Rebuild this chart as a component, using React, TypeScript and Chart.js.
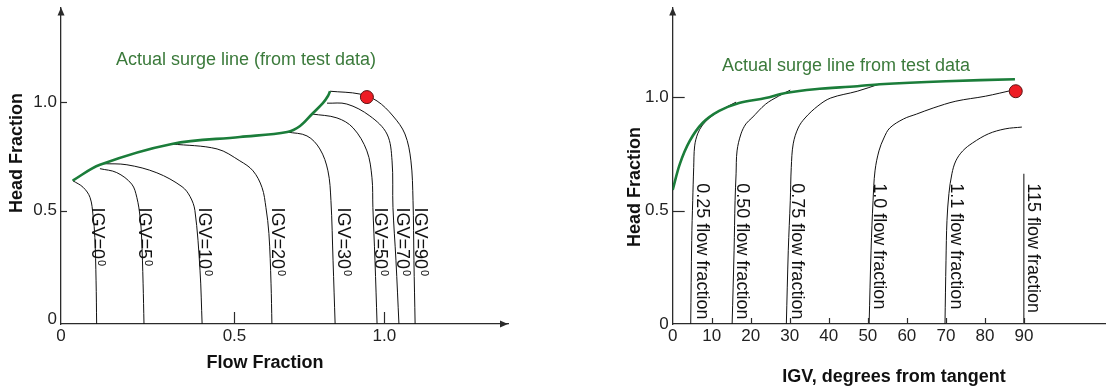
import React, { useEffect, useRef } from "react";
import { Chart, registerables } from "chart.js";
Chart.register(...registerables);

const FONT = "'Liberation Sans', Arial, Helvetica, sans-serif";
const GREEN_LINE = "#1b7d3a";
const GREEN_TEXT = "#3b7a3b";
const AXIS = "#2b2b2b";

// ---------------- Left chart: Head Fraction vs Flow Fraction ----------------
const leftXMin = -0.079;
const leftXMax = 1.413;
const leftYMin = -0.023;
const leftYMax = 1.436;
const leftXTickValues = [leftXMin, 0.5, 1.0];
const leftXTickLabels = ["0", "0.5", "1.0"];
const leftYTickValues = [0, 0.5, 1.0];
const leftYTickLabels = ["0", "0.5", "1.0"];

const igv0 = [[-0.040, 0.638], [-0.005, 0.607], [0.018, 0.560], [0.028, 0.477], [0.034, 0.376], [0.038, 0.179], [0.040, -0.023]];
const igv5 = [[0.051, 0.693], [0.107, 0.675], [0.157, 0.622], [0.174, 0.561], [0.185, 0.470], [0.190, 0.378], [0.195, 0.165], [0.198, -0.023]];
const igv10 = [[0.061, 0.716], [0.141, 0.711], [0.241, 0.674], [0.325, 0.610], [0.352, 0.564], [0.368, 0.500], [0.385, 0.225], [0.392, -0.023]];
const igv20 = [[0.291, 0.807], [0.442, 0.784], [0.518, 0.729], [0.562, 0.683], [0.592, 0.606], [0.605, 0.514], [0.615, 0.394], [0.622, 0.165], [0.625, -0.023]];
const igv30 = [[0.676, 0.862], [0.742, 0.844], [0.785, 0.784], [0.812, 0.683], [0.822, 0.546], [0.829, 0.271], [0.836, -0.023]];
const igv50 = [[0.759, 0.945], [0.842, 0.927], [0.896, 0.881], [0.942, 0.775], [0.959, 0.651], [0.962, 0.514], [0.969, 0.271], [0.976, -0.023]];
const igv70 = [[0.809, 0.995], [0.875, 0.991], [0.952, 0.936], [1.009, 0.853], [1.026, 0.729], [1.029, 0.514], [1.039, 0.271], [1.049, -0.023]];
const igv90 = [[0.819, 1.050], [0.919, 1.037], [0.976, 1.005], [1.029, 0.936], [1.069, 0.853], [1.089, 0.729], [1.096, 0.546], [1.099, 0.271], [1.103, -0.023]];
const leftSurge = [[-0.040, 0.638], [0.051, 0.711], [0.291, 0.807], [0.518, 0.839], [0.676, 0.862], [0.719, 0.890], [0.759, 0.945], [0.795, 0.995], [0.812, 1.028], [0.819, 1.050]];
const leftRedPoint = [0.942, 1.023];

const igvLabelTexts = ["IGV=0", "IGV=5", "IGV=10", "IGV=20", "IGV=30", "IGV=50", "IGV=70", "IGV=90"];
const igvLabelX = [0.024, 0.181, 0.383, 0.624, 0.846, 0.969, 1.043, 1.102];
const igvLabelTop = 0.514;
const leftNote = "Actual surge line (from test data)";
const leftNotePos = [0.1045, 1.173];

// ---------------- Right chart: Head Fraction vs IGV ----------------
const rightXMin = 0;
const rightXMax = 110.9;
const rightYMin = 0;
const rightYMax = 1.395;
const rightXTickValues = [0, 10, 20, 30, 40, 50, 60, 70, 80, 90];
const rightXTickLabels = ["0", "10", "20", "30", "40", "50", "60", "70", "80", "90"];
const rightYTickValues = [0, 0.5, 1.0];
const rightYTickLabels = ["0", "0.5", "1.0"];

const flow025 = [[16.24, 0.978], [11.94, 0.939], [9.42, 0.908], [7.65, 0.877], [6.39, 0.838], [5.63, 0.785], [5.38, 0.689], [5.13, 0.544], [4.87, 0.368], [4.62, 0]];
const flow050 = [[30.13, 1.031], [27.10, 1.004], [23.81, 0.969], [20.28, 0.908], [18.76, 0.882], [17.50, 0.838], [16.49, 0.763], [16.24, 0.662], [15.98, 0.544], [15.73, 0.325], [15.23, 0]];
const flow075 = [[52.85, 1.057], [47.30, 1.026], [40.48, 0.996], [37.20, 0.961], [33.91, 0.908], [32.15, 0.864], [30.88, 0.794], [30.38, 0.689], [30.13, 0.544], [29.62, 0.325], [29.12, 0]];
const flow100 = [[87.2, 1.031], [80.13, 1.004], [72.55, 0.982], [66.74, 0.952], [62.45, 0.925], [59.17, 0.904], [55.63, 0.864], [54.12, 0.820], [52.85, 0.763], [51.84, 0.675], [51.34, 0.544], [50.83, 0.325], [50.33, 0]];
const flow110 = [[89.47, 0.868], [85.18, 0.860], [80.88, 0.838], [76.84, 0.798], [74.32, 0.763], [72.55, 0.719], [71.54, 0.662], [70.78, 0.575], [70.28, 0.456], [70.03, 0.281], [69.77, 0]];
const flow115 = [[89.97, 0.662], [89.97, 0]];
const rightSurge = [[0, 0.591], [1.84, 0.706], [4.37, 0.807], [7.65, 0.886], [11.9, 0.939], [17, 0.974], [23.8, 0.996], [28.9, 1.018], [36.4, 1.035], [47.3, 1.048], [53.1, 1.057], [70, 1.07], [87.7, 1.079]];
const rightRedPoint = [87.9, 1.026];

const flowLabelTexts = ["0.25 flow fraction", "0.50 flow fraction", "0.75 flow fraction", "1.0 flow fraction", "1.1 flow fraction", "115 flow fraction"];
const flowLabelX = [6.14, 16.57, 30.45, 51.52, 71.29, 91.06];
const flowLabelTop = 0.62;
const rightNote = "Actual surge line from test data";
const rightNotePos = [12.63, 1.117];

// ---------------- helpers ----------------
const toPts = (arr: number[][]) => arr.map(([x, y]) => ({ x, y }));

const curveDs = (arr: number[][], color = "#111", width = 1) => ({
  data: toPts(arr),
  showLine: true,
  borderColor: color,
  borderWidth: width,
  pointRadius: 0,
  tension: 0.35,
  fill: false,
});

const redDs = (p: number[]) => ({
  data: [{ x: p[0], y: p[1] }],
  showLine: false,
  pointRadius: 6.5,
  pointBackgroundColor: "#ee1c24",
  pointBorderColor: "#5a1414",
  pointBorderWidth: 1,
});

function scaleOpts(opts: any) {
  const { axis, min, max, values, labels, size, padding } = opts;
  return {
    type: "linear",
    min,
    max,
    afterBuildTicks: (s: any) => {
      s.ticks = values.map((v: number) => ({ value: v }));
    },
    afterFit: (s: any) => {
      if (axis === "x") {
        s.height = size;
        s.paddingLeft = 0;
        s.paddingRight = 0;
      } else {
        s.width = size;
        s.paddingTop = 0;
        s.paddingBottom = 0;
      }
    },
    grid: { display: false, drawTicks: false },
    border: { display: true, color: AXIS, width: 1.3 },
    ticks: {
      autoSkip: false,
      maxRotation: 0,
      padding,
      color: "#222",
      font: { family: FONT, size: 17 },
      callback: (_v: any, i: number) => labels[i],
    },
  };
}

function overlayPlugin(cfg: any) {
  return {
    id: "overlay" + cfg.id,
    afterDraw(chart: any) {
      const ctx = chart.ctx;
      const xs = chart.scales.x;
      const ys = chart.scales.y;
      const area = chart.chartArea;
      ctx.save();
      // inner tick marks
      ctx.strokeStyle = AXIS;
      ctx.lineWidth = 1.2;
      cfg.xTicks.forEach((v: number) => {
        const px = Math.round(xs.getPixelForValue(v)) + 0.5;
        ctx.beginPath();
        ctx.moveTo(px, area.bottom);
        ctx.lineTo(px, area.bottom - cfg.xTickLen);
        ctx.stroke();
      });
      cfg.yTicks.forEach((v: number) => {
        const py = Math.round(ys.getPixelForValue(v)) + 0.5;
        ctx.beginPath();
        ctx.moveTo(area.left, py);
        ctx.lineTo(area.left + cfg.yTickLen, py);
        ctx.stroke();
      });
      // arrows
      ctx.fillStyle = AXIS;
      ctx.beginPath();
      ctx.moveTo(area.left, area.top);
      ctx.lineTo(area.left - 3.5, area.top + 8);
      ctx.lineTo(area.left + 3.5, area.top + 8);
      ctx.closePath();
      ctx.fill();
      if (cfg.xArrow) {
        ctx.beginPath();
        ctx.moveTo(area.right, area.bottom);
        ctx.lineTo(area.right - 8, area.bottom - 3.5);
        ctx.lineTo(area.right - 8, area.bottom + 3.5);
        ctx.closePath();
        ctx.fill();
      }
      // axis titles
      ctx.fillStyle = "#111";
      ctx.font = `bold 18px ${FONT}`;
      ctx.textAlign = "center";
      ctx.textBaseline = "middle";
      ctx.fillText(cfg.xTitle.text, cfg.xTitle.x, cfg.xTitle.y);
      ctx.save();
      ctx.translate(cfg.yTitle.x, cfg.yTitle.y);
      ctx.rotate(-Math.PI / 2);
      ctx.fillText(cfg.yTitle.text, 0, 0);
      ctx.restore();
      // surge line note
      ctx.fillStyle = GREEN_TEXT;
      ctx.font = `18px ${FONT}`;
      ctx.textAlign = "left";
      ctx.textBaseline = "alphabetic";
      ctx.fillText(cfg.note, xs.getPixelForValue(cfg.notePos[0]), ys.getPixelForValue(cfg.notePos[1]));
      // rotated curve labels
      ctx.fillStyle = "#111";
      cfg.labelTexts.forEach((t: string, i: number) => {
        const px = xs.getPixelForValue(cfg.labelX[i]);
        const py = ys.getPixelForValue(cfg.labelTop);
        ctx.save();
        ctx.translate(px, py);
        ctx.rotate(Math.PI / 2);
        ctx.font = `18px ${FONT}`;
        ctx.textAlign = "left";
        ctx.textBaseline = "alphabetic";
        ctx.fillText(t, 0, 0);
        if (cfg.sup) {
          const w = ctx.measureText(t).width;
          ctx.font = `11px ${FONT}`;
          ctx.fillText(cfg.sup, w + 1, -6);
        }
        ctx.restore();
      });
      ctx.restore();
    },
  };
}

function leftConfig(): any {
  return {
    type: "scatter",
    data: {
      datasets: [
        redDs(leftRedPoint),
        curveDs(leftSurge, GREEN_LINE, 2.6),
        ...[igv0, igv5, igv10, igv20, igv30, igv50, igv70, igv90].map((c) => curveDs(c)),
      ],
    },
    options: {
      responsive: false,
      animation: false,
      events: [],
      layout: { padding: { top: 6, right: 22, bottom: 0, left: 0 } },
      plugins: { legend: { display: false }, tooltip: { enabled: false } },
      scales: {
        x: scaleOpts({ axis: "x", min: leftXMin, max: leftXMax, values: leftXTickValues, labels: leftXTickLabels, size: 64, padding: 2 }),
        y: scaleOpts({ axis: "y", min: leftYMin, max: leftYMax, values: leftYTickValues, labels: leftYTickLabels, size: 61, padding: 4 }),
      },
    },
    plugins: [
      overlayPlugin({
        id: "L",
        xTicks: [0.5, 1.0],
        xTickLen: 12,
        yTicks: [0.5, 1.0],
        yTickLen: 6,
        xArrow: true,
        xTitle: { text: "Flow Fraction", x: 265, y: 363 },
        yTitle: { text: "Head Fraction", x: 17, y: 153 },
        note: leftNote,
        notePos: leftNotePos,
        labelTexts: igvLabelTexts,
        labelX: igvLabelX,
        labelTop: igvLabelTop,
        sup: "0",
      }),
    ],
  };
}

function rightConfig(): any {
  return {
    type: "scatter",
    data: {
      datasets: [
        redDs(rightRedPoint),
        curveDs(rightSurge, GREEN_LINE, 2.6),
        ...[flow025, flow050, flow075, flow100, flow110].map((c) => curveDs(c)),
        curveDs(flow115, "#444", 1.3),
      ],
    },
    options: {
      responsive: false,
      animation: false,
      events: [],
      layout: { padding: { top: 6, right: 1, bottom: 0, left: 0 } },
      plugins: { legend: { display: false }, tooltip: { enabled: false } },
      scales: {
        x: scaleOpts({ axis: "x", min: rightXMin, max: rightXMax, values: rightXTickValues, labels: rightXTickLabels, size: 64, padding: 2 }),
        y: scaleOpts({ axis: "y", min: rightYMin, max: rightYMax, values: rightYTickValues, labels: rightYTickLabels, size: 142.7, padding: 4 }),
      },
    },
    plugins: [
      overlayPlugin({
        id: "R",
        xTicks: [10, 20, 30, 40, 50, 60, 70, 80, 90],
        xTickLen: 6,
        yTicks: [0.5, 1.0],
        yTickLen: 12,
        xArrow: false,
        xTitle: { text: "IGV, degrees from tangent", x: 364, y: 377 },
        yTitle: { text: "Head Fraction", x: 105, y: 187 },
        note: rightNote,
        notePos: rightNotePos,
        labelTexts: flowLabelTexts,
        labelX: flowLabelX,
        labelTop: flowLabelTop,
        sup: "",
      }),
    ],
  };
}

export default function App() {
  const leftRef = useRef<HTMLCanvasElement>(null);
  const rightRef = useRef<HTMLCanvasElement>(null);
  useEffect(() => {
    const l = new Chart(leftRef.current as HTMLCanvasElement, leftConfig());
    const r = new Chart(rightRef.current as HTMLCanvasElement, rightConfig());
    return () => {
      l.destroy();
      r.destroy();
    };
  }, []);
  return (
    <div style={{ position: "absolute", left: 0, top: 0, width: 1113, height: 388, background: "#fff", overflow: "hidden" }}>
      <canvas ref={leftRef} width={530} height={388} style={{ position: "absolute", left: 0, top: 0, width: 530, height: 388 }} />
      <canvas ref={rightRef} width={583} height={388} style={{ position: "absolute", left: 530, top: 0, width: 583, height: 388 }} />
    </div>
  );
}
